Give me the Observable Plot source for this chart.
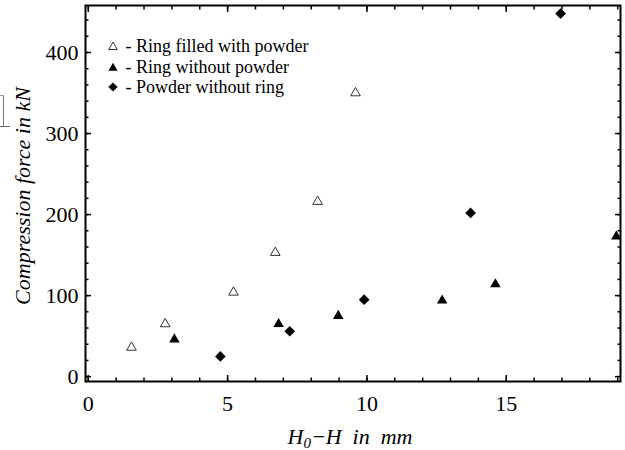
<!DOCTYPE html>
<html>
<head>
<meta charset="utf-8">
<script src="https://cdn.jsdelivr.net/npm/d3@7"></script>
<script src="https://cdn.jsdelivr.net/npm/@observablehq/plot@0.6"></script>
<style>
  html, body { margin: 0; padding: 0; background: white; }
  #wrap { position: relative; width: 625px; height: 450px; font-family: "Liberation Serif", serif; }
  #legend { position: absolute; left: 108px; top: 36px; font-size: 18px; line-height: 20.5px; color: black; }
  #legend div { display: flex; align-items: center; white-space: nowrap; }
  #legend svg { margin-right: 3px; }
  #artifact { position: absolute; left: 0; top: 95px; width: 3px; height: 31px; border-right: 1px solid #777; border-top: 1px solid #999; }
  #artifact2 { position: absolute; left: 0; top: 126px; width: 10px; height: 0; border-top: 1.5px solid #666; }
</style>
</head>
<body>
<div id="wrap"><div id="artifact"></div><div id="artifact2"></div></div>
<script>
// Data
const ringFilledX = [1.55, 2.76, 5.21, 6.71, 8.23, 9.59];
const ringFilledY = [36, 65, 104, 153, 216, 350];
const ringEmptyX = [3.09, 6.83, 8.97, 12.7, 14.61, 18.95];
const ringEmptyY = [46, 65, 75, 94, 114, 173];
const powderX = [4.74, 7.23, 9.9, 13.72, 16.95];
const powderY = [25, 56, 95, 202, 448];

const xMajor = [0, 5, 10, 15];
const xMinor = d3.range(0, 20, 1);
const yMajor = [0, 100, 200, 300, 400];
const yMinor = d3.range(0, 460, 20);

const legendLabels = ["Ring filled with powder", "Ring without powder", "Powder without ring"];

const toRows = (xs, ys) => xs.map((x, i) => ({x, y: ys[i]}));
const filled = toRows(ringFilledX, ringFilledY);
const empty = toRows(ringEmptyX, ringEmptyY);
const powder = toRows(powderX, powderY);

const font = "Liberation Serif";
const chart = Plot.plot({
  width: 625,
  height: 450,
  marginLeft: 85,
  marginRight: 5,
  marginTop: 5,
  marginBottom: 69,
  x: {domain: [-0.1, 19.1]},
  y: {domain: [-6, 458]},
  style: {fontFamily: font, fontSize: "22px", color: "black", background: "white"},
  marks: [
    Plot.dot(filled, {x: "x", y: "y", symbol: "triangle2", r: 4.6, stroke: "black", strokeWidth: 0.8, fill: "white", clip: true}),
    Plot.dot(empty, {x: "x", y: "y", symbol: "triangle", r: 3.9, fill: "black", stroke: "none", clip: true}),
    Plot.dot(powder, {x: "x", y: "y", symbol: "diamond2", r: 4.8, fill: "black", stroke: "none", clip: true}),
    // bottom axis
    Plot.axisX(xMajor, {anchor: "bottom", tickSize: -6, strokeWidth: 1.5, tickFormat: () => "", label: null}),
    Plot.axisX(xMinor, {anchor: "bottom", tickSize: -3.5, strokeWidth: 1.5, tickFormat: () => "", label: null}),
    Plot.axisX(xMajor, {anchor: "bottom", tickSize: 0, tickPadding: 14, fontSize: 22, fontFamily: font, label: null}),
    // top axis
    Plot.axisX(xMajor, {anchor: "top", tickSize: -6, strokeWidth: 1.5, tickFormat: () => "", label: null}),
    Plot.axisX(xMinor, {anchor: "top", tickSize: -3.5, strokeWidth: 1.5, tickFormat: () => "", label: null}),
    // left axis
    Plot.axisY(yMajor, {anchor: "left", tickSize: -6, strokeWidth: 1.5, tickFormat: () => "", label: null}),
    Plot.axisY(yMinor, {anchor: "left", tickSize: -3.5, strokeWidth: 1.5, tickFormat: () => "", label: null}),
    Plot.axisY(yMajor, {anchor: "left", tickSize: 0, tickPadding: 7, fontSize: 22, fontFamily: font, label: null}),
    // right axis
    Plot.axisY(yMajor, {anchor: "right", tickSize: -6, strokeWidth: 1.5, tickFormat: () => "", label: null}),
    Plot.axisY(yMinor, {anchor: "right", tickSize: -3.5, strokeWidth: 1.5, tickFormat: () => "", label: null}),
    Plot.frame({stroke: "black", strokeWidth: 2})
  ]
});

const svg = d3.select(chart);
// x-axis label
const xl = svg.append("text")
  .attr("x", 350).attr("y", 444)
  .attr("text-anchor", "middle")
  .attr("font-family", font).attr("font-style", "italic").attr("font-size", 22).attr("fill", "black");
xl.append("tspan").text("H");
xl.append("tspan").attr("font-size", 15).attr("dy", 4).text("0");
xl.append("tspan").attr("dy", -4).text("\u2212H  in  mm");
// y-axis label
svg.append("text")
  .attr("transform", "translate(30,196) rotate(-90)")
  .attr("text-anchor", "middle")
  .attr("font-family", font).attr("font-style", "italic").attr("font-size", 22).attr("fill", "black")
  .text("Compression force in kN");

document.getElementById("wrap").appendChild(chart);

// legend
const legend = document.createElement("div");
legend.id = "legend";
const shapes = [
  '<svg width="10" height="10" viewBox="-5 -5 10 10"><polygon points="0,-4 4.3,3.5 -4.3,3.5" fill="white" stroke="black" stroke-width="0.8"/></svg>',
  '<svg width="10" height="10" viewBox="-5 -5 10 10"><polygon points="0,-4.3 4.6,3.8 -4.6,3.8" fill="black"/></svg>',
  '<svg width="10" height="10" viewBox="-5 -5 10 10"><polygon points="0,-4.6 4.6,0 0,4.6 -4.6,0" fill="black"/></svg>'
];
legendLabels.forEach((t, i) => {
  const row = document.createElement("div");
  row.innerHTML = shapes[i] + "<span>&nbsp;- " + t + "</span>";
  legend.appendChild(row);
});
document.getElementById("wrap").appendChild(legend);
</script>
</body>
</html>
